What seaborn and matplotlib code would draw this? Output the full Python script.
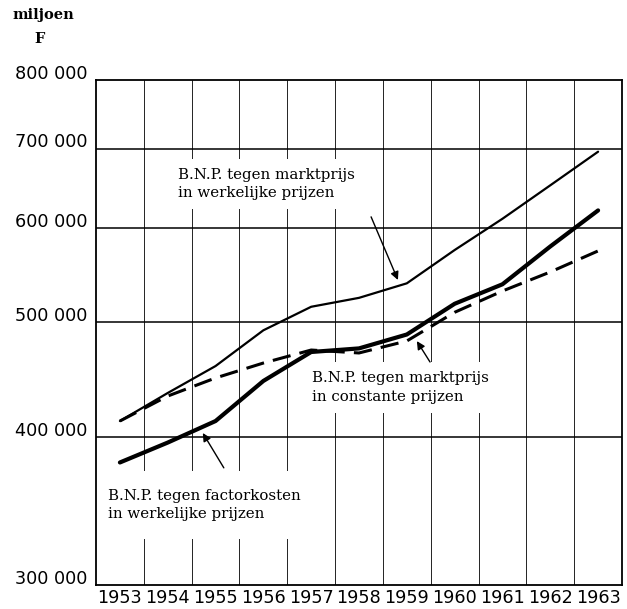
"""
B.N.P. 1953-1963 — drie reeksen op logaritmische schaal (miljoen F).
"""

import matplotlib
matplotlib.use("Agg")
import matplotlib.pyplot as plt
import seaborn as sns
from matplotlib.transforms import ScaledTranslation

# ─── DATA ────────────────────────────────────────────────────────────────────

YEARS = [1953, 1954, 1955, 1956, 1957, 1958, 1959, 1960, 1961, 1962, 1963]

# B.N.P. tegen marktprijs in werkelijke prijzen (dunne lijn)
MARKT_WERKELIJK = [412500, 435600, 459000, 492000, 515000, 524000,
                   539000, 575000, 611000, 652000, 696000]

# B.N.P. tegen factorkosten in werkelijke prijzen (dikke lijn)
FACTOR_WERKELIJK = [380600, 395600, 412500, 445900, 471700, 475000,
                    488000, 518000, 538000, 579000, 621000]

# B.N.P. tegen marktprijs in constante prijzen (streepjeslijn)
MARKT_CONSTANT = [412500, 433000, 448500, 461700, 473500, 470800,
                  481900, 509500, 531000, 551000, 574000]

Y_TICKS = [300000, 400000, 500000, 600000, 700000, 800000]
Y_LABELS = ["300 000", "400 000", "500 000", "600 000", "700 000", "800 000"]

LABEL_MARKT_WERKELIJK = "B.N.P. tegen marktprijs\nin werkelijke prijzen"
LABEL_MARKT_CONSTANT = "B.N.P. tegen marktprijs\nin constante prijzen"
LABEL_FACTOR_WERKELIJK = "B.N.P. tegen factorkosten\nin werkelijke prijzen"

# ─── FIGURE ──────────────────────────────────────────────────────────────────

sns.set_style("white")
plt.rcParams["font.family"] = ["DejaVu Sans"]
plt.rcParams["text.color"] = "black"

fig = plt.figure(figsize=(6.27, 6.09), dpi=100)
ax = fig.add_axes([96 / 627, 24 / 609, 526 / 627, 505 / 609])

ax.set_yscale("log")
ax.set_ylim(Y_TICKS[0], Y_TICKS[-1])
ax.set_xlim(YEARS[0] - 0.5, YEARS[-1] + 0.5)

# raster: horizontale lijnen op de y-waarden, verticale tussen de jaren
for v in Y_TICKS[1:-1]:
    ax.axhline(v, color="black", lw=1.1, zorder=1)
for yr in YEARS[:-1]:
    ax.axvline(yr + 0.5, color="black", lw=0.6, zorder=1)

sns.lineplot(x=YEARS, y=MARKT_WERKELIJK, ax=ax, color="black", lw=1.6, zorder=3)
sns.lineplot(x=YEARS, y=FACTOR_WERKELIJK, ax=ax, color="black", lw=3.0, zorder=3)
sns.lineplot(x=YEARS, y=MARKT_CONSTANT, ax=ax, color="black", lw=2.2,
             linestyle=(0, (6, 3)), zorder=3)

# assen
ax.set_yticks(Y_TICKS)
ax.set_yticklabels(Y_LABELS)
ax.minorticks_off()
ax.set_xticks(YEARS)
ax.set_xticklabels([str(y) for y in YEARS])
ax.tick_params(axis="both", length=0, labelsize=12.7, colors="black")
ax.tick_params(axis="y", pad=6)
ax.tick_params(axis="x", pad=3)
for lab in ax.get_yticklabels():
    lab.set_transform(lab.get_transform() + ScaledTranslation(0, 6 / 72, fig.dpi_scale_trans))
for s in ax.spines.values():
    s.set_visible(True)
    s.set_color("black")
    s.set_linewidth(1.3)
ax.set_xlabel("")
ax.set_ylabel("")

# annotaties
serif = ["DejaVu Serif"]
box = dict(boxstyle="square,pad=0.6", facecolor="white", edgecolor="none")
ax.text(0.156, 0.794, LABEL_MARKT_WERKELIJK, transform=ax.transAxes, ha="left",
        va="center", fontsize=10.8, family=serif, color="black", linespacing=1.4,
        bbox=box, zorder=2)
ax.text(0.411, 0.391, LABEL_MARKT_CONSTANT, transform=ax.transAxes, ha="left",
        va="center", fontsize=10.8, family=serif, color="black", linespacing=1.4,
        bbox=box, zorder=2)
ax.text(0.023, 0.158, LABEL_FACTOR_WERKELIJK, transform=ax.transAxes, ha="left",
        va="center", fontsize=10.8, family=serif, color="black", linespacing=1.4,
        bbox=dict(boxstyle="square,pad=1.2", facecolor="white", edgecolor="none"),
        zorder=2)

arrow = dict(arrowstyle="-|>", color="black", lw=1.0, mutation_scale=12, shrinkA=0, shrinkB=0)
ax.annotate("", xy=(0.574, 0.604), xytext=(0.523, 0.729), xycoords="axes fraction",
            textcoords="axes fraction", arrowprops=arrow, zorder=4)
ax.annotate("", xy=(0.610, 0.483), xytext=(0.635, 0.4416), xycoords="axes fraction",
            textcoords="axes fraction", arrowprops=arrow, zorder=4)
ax.annotate("", xy=(0.203, 0.301), xytext=(0.243, 0.232), xycoords="axes fraction",
            textcoords="axes fraction", arrowprops=arrow, zorder=4)

# eenheid linksboven
fig.text(12 / 627, 1 - 15 / 609, "miljoen", ha="left", va="center", fontsize=10.5,
         family=serif, fontweight="bold", color="black")
fig.text(40 / 627, 1 - 39 / 609, "F", ha="center", va="center", fontsize=10.5,
         family=serif, fontweight="bold", color="black")

fig.savefig("out.png", dpi=100)
